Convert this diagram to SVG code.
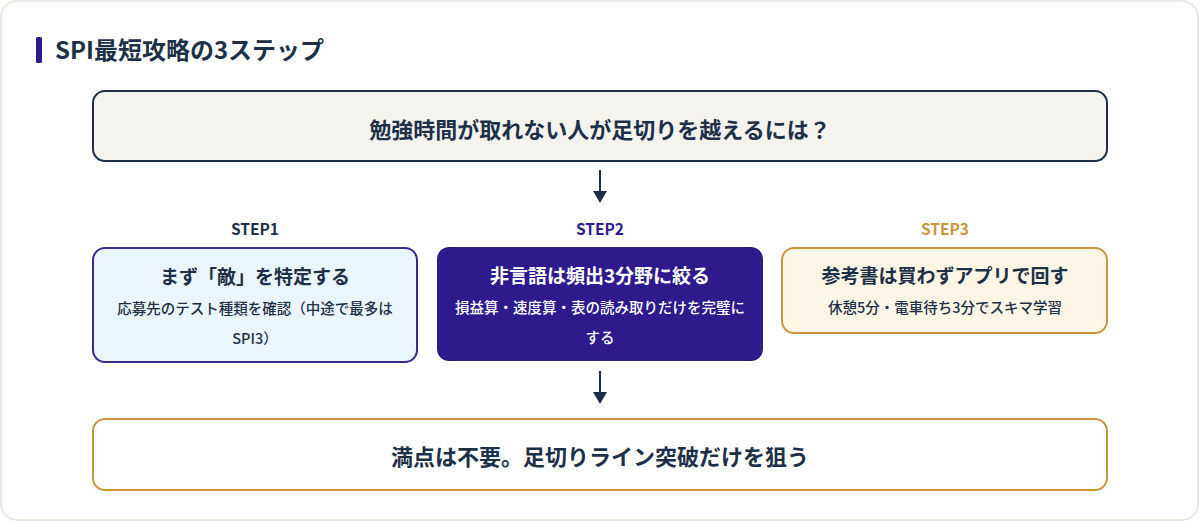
<svg xmlns="http://www.w3.org/2000/svg" width="1200" height="522" viewBox="0 0 1200 522">
<defs>
<style>
text{font-family:"Noto Sans CJK JP","Noto Sans",sans-serif;font-weight:700;text-anchor:middle}
.dark{fill:#1e3048}
.main{font-size:22px}
.step{font-size:15.5px}
.bt{font-size:19px}
.sub{font-size:14.5px;font-weight:500}
.conn line{stroke:#1e3048;stroke-width:2}
.conn path{fill:#1e3048}
</style>
</defs>
<rect x="1" y="1" width="1197" height="519" rx="16" fill="#ffffff" stroke="#e6e4da" stroke-width="1.5"/>
<g id="title">
<rect x="36" y="37" width="6" height="26" rx="1.5" fill="#2e1a8c"/>
<text x="55" y="59" class="dark" style="font-size:24px;text-anchor:start">SPI最短攻略の3ステップ</text>
</g>
<g id="question">
<rect x="93" y="91" width="1014" height="70" rx="12" fill="#f4f3ee" stroke="#1e3048" stroke-width="2"/>
<text x="600" y="138" class="dark main">勉強時間が取れない人が足切りを越えるには？</text>
</g>
<g id="step1">
<text x="255" y="235" class="dark step">STEP1</text>
<rect x="93" y="248" width="324" height="114" rx="12" fill="#eaf6fd" stroke="#3b2a8f" stroke-width="2"/>
<text x="255" y="284" class="dark bt">まず「敵」を特定する</text>
<text x="255" y="314" class="dark sub">応募先のテスト種類を確認（中途で最多は</text>
<text x="255" y="344" class="dark sub">SPI3）</text>
</g>
<g id="step2">
<text x="600" y="235" class="step" fill="#2e1a8c">STEP2</text>
<rect x="437" y="247" width="326" height="114" rx="12" fill="#2e1a8c"/>
<text x="600" y="283" class="bt" fill="#ffffff">非言語は頻出3分野に絞る</text>
<text x="600" y="313" class="sub" fill="#ffffff">損益算・速度算・表の読み取りだけを完璧に</text>
<text x="600" y="343" class="sub" fill="#ffffff">する</text>
</g>
<g id="step3">
<text x="945" y="235" class="step" fill="#c9963f">STEP3</text>
<rect x="782" y="248" width="325" height="85" rx="12" fill="#fdf6e6" stroke="#c9963f" stroke-width="2"/>
<text x="945" y="283" class="dark bt">参考書は買わずアプリで回す</text>
<text x="945" y="313" class="dark sub">休憩5分・電車待ち3分でスキマ学習</text>
</g>
<g id="goal">
<rect x="93" y="419" width="1014" height="71" rx="12" fill="#ffffff" stroke="#c9963f" stroke-width="2"/>
<text x="600" y="465" class="dark main">満点は不要。足切りライン突破だけを狙う</text>
</g>
<g class="conn" id="connectors">
<line x1="600" y1="170" x2="600" y2="193"/>
<path d="M593 191 L607 191 L600 203 Z"/>
<line x1="600" y1="371" x2="600" y2="394"/>
<path d="M593 392 L607 392 L600 404 Z"/>
</g>
</svg>
